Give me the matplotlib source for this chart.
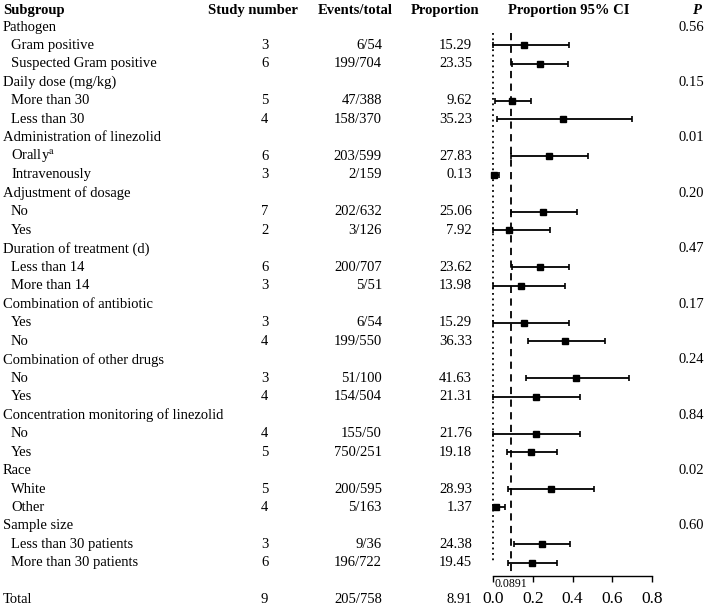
import matplotlib
matplotlib.use("Agg")
import matplotlib.pyplot as plt
from matplotlib.transforms import blended_transform_factory

plt.rcParams['font.family'] = ['Liberation Serif', 'DejaVu Serif']
plt.rcParams['mathtext.fontset'] = 'stix'

# ---------------- data ----------------
categories = ["Pathogen", "Daily dose (mg/kg)", "Administration of linezolid",
              "Adjustment of dosage", "Duration of treatment (d)",
              "Combination of antibiotic", "Combination of other drugs",
              "Concentration monitoring of linezolid", "Race", "Sample size"]
p_values = ["0.56", "0.15", "0.01", "0.20", "0.47", "0.17", "0.24", "0.84", "0.02", "0.60"]

subgroups = [["Gram positive", "Suspected Gram positive"],
             ["More than 30", "Less than 30"],
             ["Orally$^{\\mathrm{a}}$", "Intravenously"],
             ["No", "Yes"],
             ["Less than 14", "More than 14"],
             ["Yes", "No"],
             ["No", "Yes"],
             ["No", "Yes"],
             ["White", "Other"],
             ["Less than 30 patients", "More than 30 patients"]]
study_numbers = [[3, 6], [5, 4], [6, 3], [7, 2], [6, 3], [3, 4], [3, 4], [4, 5], [5, 4], [3, 6]]
events_total = [["6/54", "199/704"], ["47/388", "158/370"], ["203/599", "2/159"],
                ["202/632", "3/126"], ["200/707", "5/51"], ["6/54", "199/550"],
                ["51/100", "154/504"], ["155/50", "750/251"], ["200/595", "5/163"],
                ["9/36", "196/722"]]
proportions = [[15.29, 23.35], [9.62, 35.23], [27.83, 0.13], [25.06, 7.92],
               [23.62, 13.98], [15.29, 36.33], [41.63, 21.31], [21.76, 19.18],
               [28.93, 1.37], [24.38, 19.45]]
ci_low = [[0.0, 0.093], [0.009, 0.017], [0.088, 0.0], [0.090, 0.0], [0.095, 0.0],
          [0.0, 0.173], [0.163, 0.0], [0.0, 0.071], [0.076, 0.0], [0.105, 0.074]]
ci_high = [[0.384, 0.377], [0.188, 0.697], [0.476, 0.027], [0.421, 0.286],
           [0.384, 0.360], [0.384, 0.565], [0.684, 0.438], [0.438, 0.323],
           [0.510, 0.061], [0.386, 0.322]]

total_label = "Total"
total_studies = 9
total_events = "205/758"
total_prop = 8.91
pooled = 0.0891
pooled_label = "0.0891"
null_line = 0.0
xticks = [0.0, 0.2, 0.4, 0.6, 0.8]

# ---------------- layout ----------------
W, H = 705, 608
fig = plt.figure(figsize=(W / 100, H / 100), dpi=100)

row0_px = 27.0
row_step = 18.48
axis_px = 576.0
ax_left, ax_right = 493.3, 652.0
ax = fig.add_axes([ax_left / W, 1 - axis_px / H, (ax_right - ax_left) / W, axis_px / H])
ax.set_xlim(0, 0.8)
ax.set_ylim((axis_px - row0_px) / row_step, -row0_px / row_step)

fs = 10.5
trans = blended_transform_factory(fig.transFigure, ax.transData)

def fx(px):
    return px / W

# headers
header_y = (10 - row0_px) / row_step
ax.text(fx(3), header_y, "Subgroup", transform=trans, fontsize=fs, fontweight='bold', va='center', ha='left')
ax.text(fx(208), header_y, "Study number", transform=trans, fontsize=fs, fontweight='bold', va='center', ha='left')
ax.text(fx(318), header_y, "Events/total", transform=trans, fontsize=fs, fontweight='bold', va='center', ha='left')
ax.text(fx(411), header_y, "Proportion", transform=trans, fontsize=fs, fontweight='bold', va='center', ha='left')
ax.text(fx(508), header_y, "Proportion 95% CI", transform=trans, fontsize=fs, fontweight='bold', va='center', ha='left')
ax.text(fx(692), header_y, "P", transform=trans, fontsize=fs, fontweight='bold', fontstyle='italic', va='center', ha='left')

row = 0
for ci, cat in enumerate(categories):
    ax.text(fx(3), row, cat, transform=trans, fontsize=fs, va='center', ha='left')
    ax.text(fx(704), row, p_values[ci], transform=trans, fontsize=fs, va='center', ha='right')
    row += 1
    for si, sub in enumerate(subgroups[ci]):
        ax.text(fx(11), row, sub, transform=trans, fontsize=fs, va='center', ha='left')
        ax.text(fx(264.5), row, str(study_numbers[ci][si]), transform=trans, fontsize=fs, va='center', ha='center')
        ax.text(fx(382), row, events_total[ci][si], transform=trans, fontsize=fs, va='center', ha='right')
        ax.text(fx(472), row, f"{proportions[ci][si]:.2f}", transform=trans, fontsize=fs, va='center', ha='right')
        est = proportions[ci][si] / 100.0
        lo, hi = ci_low[ci][si], ci_high[ci][si]
        ax.errorbar([est], [row], xerr=[[est - lo], [hi - est]], fmt='s', color='black',
                    markersize=5, elinewidth=1.3, capsize=2.5, capthick=1.2, clip_on=False, zorder=3)
        row += 1

last_row = row - 1
total_row = row + 1
ax.text(fx(3), total_row, total_label, transform=trans, fontsize=fs, va='center', ha='left')
ax.text(fx(264.5), total_row, str(total_studies), transform=trans, fontsize=fs, va='center', ha='center')
ax.text(fx(382), total_row, total_events, transform=trans, fontsize=fs, va='center', ha='right')
ax.text(fx(472), total_row, f"{total_prop:.2f}", transform=trans, fontsize=fs, va='center', ha='right')

# reference lines
ax.vlines(pooled, 0.3, last_row + 0.55, colors='black', linestyles=(0, (4, 3)), linewidth=1.3, zorder=1)
ax.vlines(null_line, 0.3, last_row, colors='black', linestyles=(0, (1, 2)), linewidth=1.3, zorder=1, clip_on=False)

ax.annotate(pooled_label, xy=(0.004, 0), xycoords=blended_transform_factory(ax.transData, ax.transAxes),
            xytext=(0, -1.5), textcoords='offset points', fontsize=8.5, va='top', ha='left')

for s in ['left', 'top', 'right']:
    ax.spines[s].set_visible(False)
ax.spines['bottom'].set_linewidth(1.0)
ax.set_yticks([])
ax.set_xticks(xticks)
ax.set_xticklabels([f"{t:.1f}" for t in xticks])
ax.tick_params(axis='x', direction='out', length=4, width=1.0, pad=6.5, labelsize=12.5)
ax.patch.set_alpha(0)

fig.savefig("out.png", dpi=100)
